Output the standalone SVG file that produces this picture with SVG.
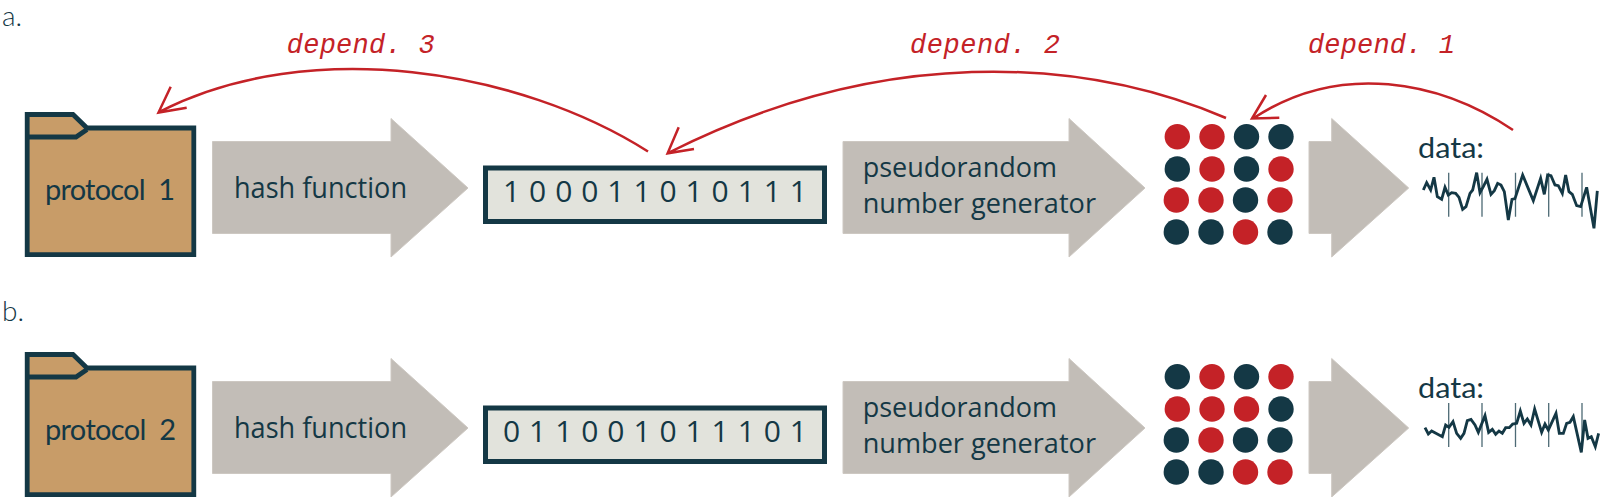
<svg xmlns="http://www.w3.org/2000/svg" width="1600" height="497" viewBox="0 0 1600 497">
<style>
.ln{fill:none;stroke:#143845;stroke-width:4.800;stroke-linejoin:miter}
.tan{fill:#c89c68}
.gr{fill:#c2bdb7;stroke:#cdc8c2;stroke-width:1}
.bx{fill:#e2e3dc;stroke:#143845;stroke-width:5}
.t{fill:#143845;font-family:"Open Sans",sans-serif;font-size:30px}
.p{fill:#143845;font-family:"Open Sans",sans-serif;font-size:27px}
.l{fill:#143845;font-family:Lato,sans-serif;font-size:29px}
.h{fill:#143845;font-family:Lato,sans-serif;font-size:28px;font-weight:300}
.d{fill:#c42227;font-family:"Liberation Mono",monospace;font-size:27px;font-style:italic}
.n{fill:#143845}.r{fill:#c42227}
.c{fill:none;stroke:#c42227;stroke-width:2.500}
.w{fill:none;stroke:#143845;stroke-width:8.500;stroke-linejoin:miter}
.v{stroke:#4d6a75;stroke-width:1.300}
</style>
<defs>
<g id="folder"><path class="tan" d="M27,114.500H73L87,128H194V255H27Z"/><path class="ln" d="M27.200,114.500H73L87,128H193.800V254.700H27.200Z"/><path class="ln" d="M27.200,137H76L87,129.500"/></g>
<polygon id="a1" class="gr" points="212.500,141.500 391,141.500 391,118.500 468,188 391,257 391,233.500 212.500,233.500"/>
<polygon id="a2" class="gr" points="843,141.500 1069,141.500 1069,118.500 1145,188 1069,257 1069,233.500 843,233.500"/>
<polygon id="a3" class="gr" points="1309,141.500 1331.700,141.500 1331.700,118.500 1408.700,188 1331.700,257 1331.700,233.500 1309,233.500"/>
</defs>
<text class="h" x="2" y="26">a.</text>
<text class="h" x="2" y="320.700">b.</text>
<g id="protocol-1"><use href="#folder"/><text class="l" x="45" y="200" textLength="130">protocol&#160;&#160;1</text></g>
<g id="hash-1"><use href="#a1"/><text class="t" x="234" y="198" textLength="173" lengthAdjust="spacingAndGlyphs">hash function</text></g>
<g id="bits-1"><rect class="bx" x="485.500" y="168" width="339" height="53.500"/><text class="t" x="503" y="202" textLength="304">1 0 0 0 1 1 0 1 0 1 1 1</text></g>
<g id="prng-1"><use href="#a2"/><text class="p" x="862.700" y="176.700" textLength="194.300" lengthAdjust="spacingAndGlyphs">pseudorandom</text><text class="p" x="862.700" y="213.300" textLength="233.300" lengthAdjust="spacingAndGlyphs">number generator</text></g>
<g id="grid-1">
<circle class="r" cx="1177.300" cy="136.700" r="12.700"/><circle class="r" cx="1212" cy="136.700" r="12.700"/><circle class="n" cx="1246.500" cy="136.700" r="12.700"/><circle class="n" cx="1281" cy="136.700" r="12.700"/>
<circle class="n" cx="1177.300" cy="169" r="12.700"/><circle class="r" cx="1212" cy="169" r="12.700"/><circle class="n" cx="1246.500" cy="169" r="12.700"/><circle class="r" cx="1281" cy="169" r="12.700"/>
<circle class="r" cx="1176.300" cy="200" r="12.700"/><circle class="r" cx="1211" cy="200" r="12.700"/><circle class="n" cx="1245.500" cy="200" r="12.700"/><circle class="r" cx="1280" cy="200" r="12.700"/>
<circle class="n" cx="1176.300" cy="232" r="12.700"/><circle class="n" cx="1211" cy="232" r="12.700"/><circle class="r" cx="1245.500" cy="232" r="12.700"/><circle class="n" cx="1280" cy="232" r="12.700"/>
</g>
<g id="out-arrow-1"><use href="#a3"/></g>
<g id="data-1"><text class="l" x="1418" y="157.500" textLength="66" lengthAdjust="spacingAndGlyphs">data:</text>
<path class="v" d="M1448.700,172.700V216.700M1482,172.700V216.700M1515.500,172.700V216.700M1548.700,172.700V216.700M1582,172.700V216.700"/>
<polyline class="w" transform="translate(1390,160) scale(.3333)" points="100,90 110,68 122,90 132,52 142,110 155,118 165,82 175,105 185,98 197,100 207,112 218,148 228,140 240,100 248,90 260,38 270,98 280,80 291,58 303,103 313,92 323,70 333,75 343,95 355,180 366,118 375,116 398,45 430,122 452,55 463,103 473,45 483,47 495,75 505,77 517,100 527,45 537,95 547,103 560,137 572,140 590,82 612,205 622,93"/></g>
<g transform="translate(0,240)">
<g id="protocol-2"><use href="#folder"/><text class="l" x="45" y="200" textLength="131">protocol&#160;&#160;2</text></g>
<g id="hash-2"><use href="#a1"/><text class="t" x="234" y="198" textLength="173" lengthAdjust="spacingAndGlyphs">hash function</text></g>
<g id="bits-2"><rect class="bx" x="485.500" y="168" width="339" height="53.500"/><text class="t" x="503" y="202" textLength="304">0 1 1 0 0 1 0 1 1 1 0 1</text></g>
<g id="prng-2"><use href="#a2"/><text class="p" x="862.700" y="176.700" textLength="194.300" lengthAdjust="spacingAndGlyphs">pseudorandom</text><text class="p" x="862.700" y="213.300" textLength="233.300" lengthAdjust="spacingAndGlyphs">number generator</text></g>
<g id="grid-2">
<circle class="n" cx="1177.300" cy="136.700" r="12.700"/><circle class="r" cx="1212" cy="136.700" r="12.700"/><circle class="n" cx="1246.500" cy="136.700" r="12.700"/><circle class="r" cx="1281" cy="136.700" r="12.700"/>
<circle class="r" cx="1177.300" cy="169" r="12.700"/><circle class="r" cx="1212" cy="169" r="12.700"/><circle class="r" cx="1246.500" cy="169" r="12.700"/><circle class="n" cx="1281" cy="169" r="12.700"/>
<circle class="n" cx="1176.300" cy="200" r="12.700"/><circle class="r" cx="1211" cy="200" r="12.700"/><circle class="n" cx="1245.500" cy="200" r="12.700"/><circle class="n" cx="1280" cy="200" r="12.700"/>
<circle class="n" cx="1176.300" cy="232" r="12.700"/><circle class="n" cx="1211" cy="232" r="12.700"/><circle class="r" cx="1245.500" cy="232" r="12.700"/><circle class="r" cx="1280" cy="232" r="12.700"/>
</g>
<g id="out-arrow-2"><use href="#a3"/></g>
<g id="data-2"><text class="l" x="1418" y="157.500" textLength="66" lengthAdjust="spacingAndGlyphs">data:</text></g>
</g>
<g id="wave-2">
<path class="v" d="M1448.700,403V447M1482,403V447M1515.500,403V447M1548.700,403V447M1582,403V447"/>
<polyline class="w" transform="translate(1390,395) scale(.3333)" points="105,98 115,117 125,108 157,125 167,90 177,97 189,80 200,115 212,130 222,115 232,77 243,73 255,90 265,112 285,62 296,112 307,103 317,118 327,108 337,115 347,98 358,98 368,87 380,85 391,48 402,85 412,72 423,90 434,42 455,112 465,87 475,105 498,55 508,115 520,115 530,85 540,82 550,65 574,172 584,75 594,130 604,125 616,155 626,115"/></g>
<g id="connectors">
<path class="c" d="M648,151.500C520,70 310,35 160,111.500M170.700,86.700L158.500,112.500L186.700,107.700"/>
<path class="c" d="M1226,118C1080,56 880,46 669,152.500M678.700,127.300L667.600,153.300L694,149"/>
<path class="c" d="M1513,130C1440,81 1340,61 1253,118.500M1266,95L1252,118.500L1279.300,117.700"/>
<text class="d" x="286.700" y="53" textLength="148">depend. 3</text>
<text class="d" x="910" y="53" textLength="150">depend. 2</text>
<text class="d" x="1308" y="53" textLength="147">depend. 1</text>
</g>
</svg>
